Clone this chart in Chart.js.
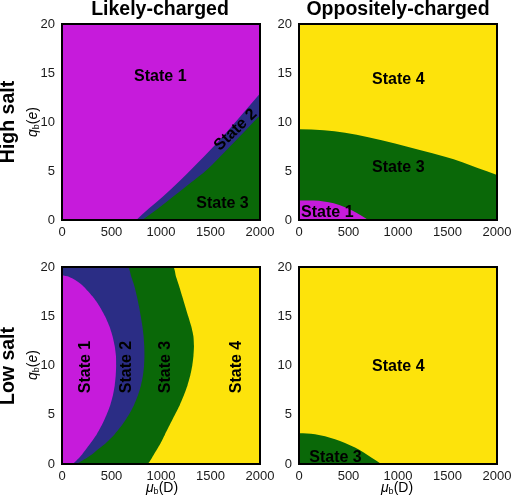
<!DOCTYPE html>
<html>
<head>
<meta charset="utf-8">
<script src="https://cdn.jsdelivr.net/npm/chart.js@4.4.0/dist/chart.umd.min.js"></script>
<style>
body { margin: 0; width: 521px; height: 502px; position: relative; background: #fff; overflow: hidden;
       font-family: "Liberation Sans", Arial, Helvetica, sans-serif; }
canvas { position: absolute; }
.t { position: absolute; white-space: nowrap; color: #000; line-height: 1; }
.col { font-weight: bold; font-size: 19.5px; transform: translate(-50%, -50%); }
.row { font-weight: bold; font-size: 19.5px; transform: translate(-50%, -50%) rotate(-90deg); }
.ax { font-size: 14px; transform: translate(-50%, -50%); }
.ay { font-size: 14px; transform: translate(-50%, -50%) rotate(-90deg); }
sub { font-size: 9px; vertical-align: -2px; }
</style>
</head>
<body>
<canvas id="hl" width="290" height="250" style="left:0;top:0"></canvas>
<canvas id="ho" width="259" height="250" style="left:262px;top:0"></canvas>
<canvas id="ll" width="290" height="252" style="left:0;top:250px"></canvas>
<canvas id="lo" width="259" height="252" style="left:262px;top:250px"></canvas>

<div class="t col" style="left:160px;top:9px">Likely-charged</div>
<div class="t col" style="left:398px;top:9px">Oppositely-charged</div>
<div class="t row" style="left:7.5px;top:122px">High salt</div>
<div class="t row" style="left:7.5px;top:366px">Low salt</div>
<div class="t ay" style="left:33px;top:122px"><i>q</i><sub>b</sub>(<i>e</i>)</div>
<div class="t ay" style="left:33px;top:365px"><i>q</i><sub>b</sub>(<i>e</i>)</div>
<div class="t ax" style="left:162px;top:488px"><i>μ</i><sub>b</sub>(D)</div>
<div class="t ax" style="left:397px;top:488px"><i>μ</i><sub>b</sub>(D)</div>

<script>
// axis ticks
const muTicks = [0, 500, 1000, 1500, 2000];
const qTicks = [0, 5, 10, 15, 20];

// high salt, likely-charged: boundaries q(mu)
const hlState2Mu = [750, 880, 1020, 1180, 1320, 1560, 1770, 2000];
const hlState2Q  = [0, 1.2, 2.4, 3.9, 5.3, 7.8, 10.2, 12.9];
const hlState3Mu = [810, 960, 1124, 1300, 1461, 1697, 2000];
const hlState3Q  = [0, 1.1, 2.4, 3.8, 5.1, 7.5, 10.7];

// high salt, oppositely-charged
const hoState3Mu = [0, 250, 465, 700, 970, 1220, 1475, 1650, 1811, 2000];
const hoState3Q  = [9.25, 9.15, 8.9, 8.45, 7.8, 7.15, 6.46, 5.9, 5.27, 4.6];
const hoState1Mu = [0, 150, 250, 350, 465, 580, 700];
const hoState1Q  = [2.0, 1.98, 1.9, 1.7, 1.3, 0.75, 0];

// low salt, likely-charged: right-hand edge of each region, mu(q)
const llState1Q  = [0, 0.5, 1, 2, 3, 4, 5, 6, 7, 8, 9, 10, 11, 12, 13, 14, 15, 16, 17, 18, 18.5, 19, 19.15];
const llState1Mu = [105, 160, 205, 280, 350, 405, 450, 488, 515, 533, 543, 547, 545, 532, 510, 478, 435, 380, 310, 220, 160, 70, 0];
const llState2Q  = [0, 0.5, 1, 1.5, 2, 3, 4, 5, 6, 7, 8, 9, 10, 11, 12, 13, 14, 15, 16, 17, 18, 19, 20];
const llState2Mu = [140, 230, 305, 365, 430, 530, 610, 675, 728, 768, 798, 818, 829, 833, 831, 824, 812, 796, 778, 757, 733, 700, 663];
const llState3Q  = [0, 1, 2, 3, 4, 5, 6, 7, 8, 9, 10, 11, 12, 13, 14, 15, 16, 17, 18, 19, 20];
const llState3Mu = [856, 930, 990, 1040, 1090, 1140, 1190, 1232, 1268, 1296, 1316, 1328, 1333, 1327, 1305, 1275, 1245, 1215, 1185, 1152, 1120];

// low salt, oppositely-charged
const loState3Mu = [0, 80, 162, 364, 566, 734, 830];
const loState3Q  = [3.13, 3.1, 3.03, 2.52, 1.67, 0.64, 0];

const MAG = '#c61bdb', BLUE = '#2b2d85', GREEN = '#0a6808', YEL = '#fde30b';

function pts(xs, ys) {
    return xs.map((x, i) => ({x: x, y: ys[i]}));
}

function region(data, color) {
    return {
        data: data,
        backgroundColor: color,
        borderWidth: 0,
        pointRadius: 0,
        fill: 'start',
        cubicInterpolationMode: 'monotone',
    };
}

// closed area left of a curve mu(q): from the y axis out to the curve
function leftRegion(mus, qs, color) {
    const data = [{x: 0, y: qs[0]}].concat(pts(mus, qs));
    data.push({x: 0, y: qs[qs.length - 1]});
    return {
        data: data,
        backgroundColor: color,
        borderWidth: 0,
        pointRadius: 0,
        fill: 'shape',
        tension: 0.2,
    };
}

const labelPlugin = {
    id: 'stateLabels',
    afterDatasetsDraw(chart, args, opts) {
        const ctx = chart.ctx;
        const xs = chart.scales.x, ys = chart.scales.y;
        opts.items.forEach((it) => {
            ctx.save();
            ctx.translate(xs.getPixelForValue(it.mu), ys.getPixelForValue(it.q));
            ctx.rotate((it.rot || 0) * Math.PI / 180);
            ctx.font = 'bold 16px "Liberation Sans", Arial, sans-serif';
            ctx.fillStyle = '#000';
            ctx.textAlign = 'center';
            ctx.textBaseline = 'middle';
            ctx.fillText(it.text, 0, 0);
            ctx.restore();
        });
    },
    afterDraw(chart) {
        const a = chart.chartArea;
        const ctx = chart.ctx;
        ctx.save();
        ctx.strokeStyle = '#000';
        ctx.lineWidth = 2;
        ctx.strokeRect(a.left, a.top, a.right - a.left, a.bottom - a.top);
        ctx.restore();
    },
};

function makePanel(id, datasets, labels, cfg) {
    new Chart(document.getElementById(id), {
        type: 'line',
        data: {datasets: datasets},
        plugins: [labelPlugin],
        options: {
            responsive: false,
            animation: false,
            layout: {padding: {left: 0, right: cfg.right, top: cfg.top, bottom: 0}},
            plugins: {
                legend: {display: false},
                tooltip: {enabled: false},
                stateLabels: {items: labels},
            },
            scales: {
                x: {
                    type: 'linear', min: 0, max: 2000,
                    grid: {display: false, drawTicks: false},
                    border: {display: false},
                    ticks: {padding: 5, color: '#1a1a1a', font: {size: 13, family: '"Liberation Sans", Arial, sans-serif'},
                            callback: (v) => String(v)},
                    afterBuildTicks: (s) => { s.ticks = muTicks.map((v) => ({value: v})); },
                    afterFit: (s) => { s.height = cfg.xh; s.paddingLeft = 0; s.paddingRight = 0; },
                },
                y: {
                    type: 'linear', min: 0, max: 20,
                    grid: {display: false, drawTicks: false},
                    border: {display: false},
                    ticks: {padding: 7, color: '#1a1a1a', font: {size: 13, family: '"Liberation Sans", Arial, sans-serif'},
                            callback: (v) => String(v)},
                    afterBuildTicks: (s) => { s.ticks = qTicks.map((v) => ({value: v})); },
                    afterFit: (s) => { s.width = cfg.yw; s.paddingTop = 0; s.paddingBottom = 0; },
                },
            },
        },
    });
}

makePanel('hl', [
    region(pts(hlState3Mu, hlState3Q), GREEN),
    region(pts(hlState2Mu, hlState2Q), BLUE),
    region(pts([0, 2000], [20, 20]), MAG),
], [
    {text: 'State 1', mu: 993, q: 14.6},
    {text: 'State 2', mu: 1754, q: 9.2, rot: -44},
    {text: 'State 3', mu: 1621, q: 1.65},
], {yw: 62, right: 30, top: 24, xh: 30});

makePanel('ho', [
    region(pts(hoState1Mu, hoState1Q), MAG),
    region(pts(hoState3Mu, hoState3Q), GREEN),
    region(pts([0, 2000], [20, 20]), YEL),
], [
    {text: 'State 4', mu: 1003, q: 14.37},
    {text: 'State 3', mu: 1003, q: 5.36},
    {text: 'State 1', mu: 286, q: 0.73},
], {yw: 37, right: 24, top: 24, xh: 30});

makePanel('ll', [
    leftRegion(llState1Mu, llState1Q, MAG),
    leftRegion(llState2Mu, llState2Q, BLUE),
    leftRegion(llState3Mu, llState3Q, GREEN),
    region(pts([0, 2000], [20, 20]), YEL),
], [
    {text: 'State 1', mu: 242, q: 9.85, rot: -90},
    {text: 'State 2', mu: 655, q: 9.85, rot: -90},
    {text: 'State 3', mu: 1048, q: 9.85, rot: -90},
    {text: 'State 4', mu: 1768, q: 9.85, rot: -90},
], {yw: 62, right: 30, top: 17, xh: 38});

makePanel('lo', [
    region(pts(loState3Mu, loState3Q), GREEN),
    region(pts([0, 2000], [20, 20]), YEL),
], [
    {text: 'State 4', mu: 1003, q: 9.84},
    {text: 'State 3', mu: 369, q: 0.68},
], {yw: 37, right: 24, top: 17, xh: 38});
</script>
</body>
</html>
